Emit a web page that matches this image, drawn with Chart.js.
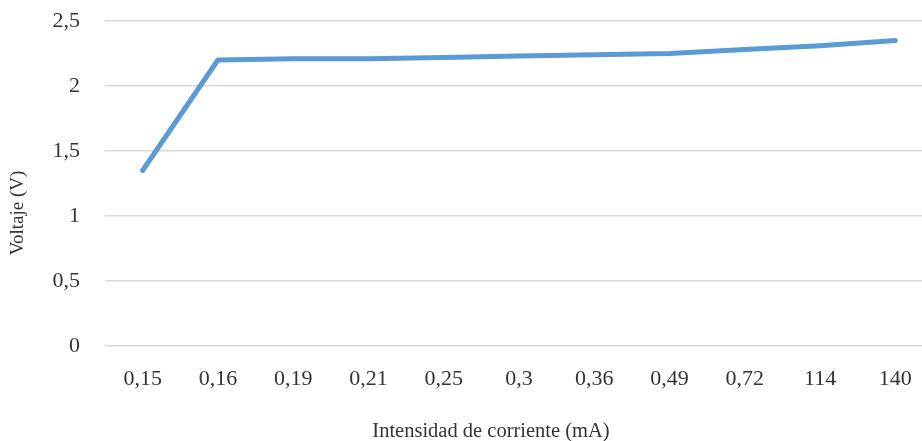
<!DOCTYPE html>
<html>
<head>
<meta charset="utf-8">
<script src="https://cdn.jsdelivr.net/npm/chart.js@4"></script>
<style>
  html, body { margin: 0; padding: 0; background: #fff; overflow: hidden; }
  #caja { width: 933px; height: 441px; position: relative; }
</style>
</head>
<body>
<div id="caja"><canvas id="grafico"></canvas></div>
<script>
// Intensidad de corriente (mA) - categorias del eje x
const corrientes = ['0,15', '0,16', '0,19', '0,21', '0,25', '0,3', '0,36', '0,49', '0,72', '114', '140'];
// Voltaje (V) medido en cada punto
const voltajes = [1.35, 2.2, 2.21, 2.21, 2.22, 2.23, 2.24, 2.25, 2.28, 2.31, 2.35];
// ticks del eje y
const ticksVoltaje = [0, 0.5, 1, 1.5, 2, 2.5];

const tituloX = 'Intensidad de corriente (mA)';
const tituloY = 'Voltaje (V)';

const fuente = "'Liberation Serif', 'DejaVu Serif', serif";
const colorTexto = '#333333';

// Titulos de los ejes dibujados a mano (como en Excel no van centrados en el area)
const titulosEjes = {
  id: 'titulosEjes',
  afterDraw(chart) {
    const ctx = chart.ctx;
    ctx.save();
    ctx.fillStyle = colorTexto;
    ctx.textAlign = 'center';
    ctx.textBaseline = 'middle';
    ctx.font = '20.5px ' + fuente;
    ctx.fillText(tituloX, 491, 432);
    ctx.translate(18, 213);
    ctx.rotate(-Math.PI / 2);
    ctx.font = '19px ' + fuente;
    ctx.fillText(tituloY, 0, 0);
    ctx.restore();
  }
};

const config = {
  type: 'line',
  data: {
    labels: corrientes,
    datasets: [{
      label: 'Voltaje',
      data: voltajes,
      borderColor: '#5b9bd5',
      borderWidth: 5,
      borderCapStyle: 'round',
      borderJoinStyle: 'round',
      pointRadius: 0,
      fill: false,
      tension: 0
    }]
  },
  options: {
    responsive: true,
    maintainAspectRatio: false,
    animation: false,
    layout: { padding: { top: 21, left: 0, right: 0, bottom: 0 } },
    plugins: {
      legend: { display: false },
      tooltip: { enabled: false }
    },
    scales: {
      x: {
        offset: true,
        grid: { display: false },
        border: { display: false },
        afterFit: function (eje) {
          eje.height = 95;
          eje.paddingLeft = 0;
          eje.paddingRight = 0;
        },
        ticks: {
          color: colorTexto,
          font: { family: fuente, size: 22 },
          padding: 12,
          maxRotation: 0
        }
      },
      y: {
        min: 0,
        max: 2.5,
        afterBuildTicks: function (eje) {
          eje.ticks = ticksVoltaje.map(v => ({ value: v }));
        },
        afterFit: function (eje) {
          eje.width = 105;
          eje.paddingTop = 0;
          eje.paddingBottom = 0;
        },
        grid: { color: '#d9d9d9', lineWidth: 1.5, drawTicks: false },
        border: { display: false },
        ticks: {
          color: colorTexto,
          font: { family: fuente, size: 22 },
          padding: 25,
          callback: function (valor) {
            return String(valor).replace('.', ',');
          }
        }
      }
    }
  },
  plugins: [titulosEjes]
};

new Chart(document.getElementById('grafico'), config);
</script>
</body>
</html>
